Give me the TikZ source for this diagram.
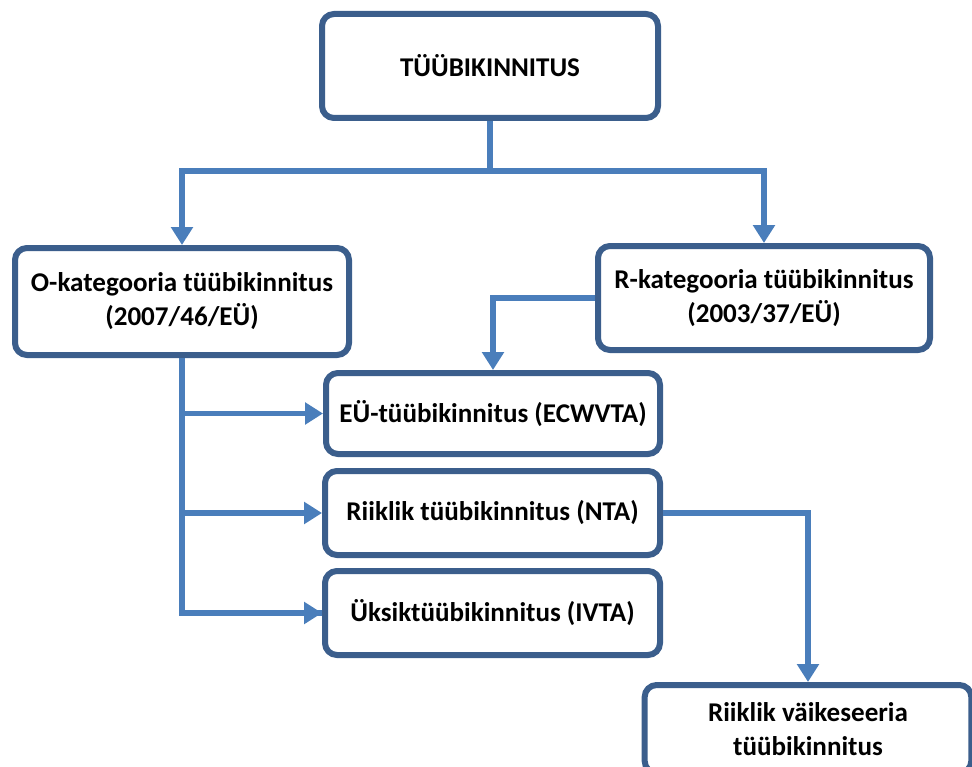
\documentclass[tikz,border=0pt]{standalone}
\usepackage{fontspec}
\setmainfont{Carlito}
\usetikzlibrary{arrows.meta}
\definecolor{boxblue}{HTML}{3B5E8C}
\definecolor{connblue}{HTML}{4A7EBB}
\begin{document}
\begin{tikzpicture}[x=0.75pt,y=-0.75pt,
  box/.style={draw=boxblue, line width=4.5pt, rounded corners=9pt, fill=white,
    align=center, inner sep=0pt, font=\bfseries\fontsize{20.3}{25.5}\selectfont},
  conn/.style={draw=connblue, line width=4.2pt},
  arr/.style={conn, -{Triangle[width=16pt,length=13.5pt]}}]
\useasboundingbox (0,0) rectangle (972,767);
\node[box, minimum width=252pt, minimum height=78pt] (top) at (490,66) {TÜÜBIKINNITUS};
\node[box, minimum width=250.5pt, minimum height=80.25pt] (O) at (182,301.5) {O-kategooria tüübikinnitus\\(2007/46/EÜ)};
\node[box, minimum width=249pt, minimum height=78pt] (R) at (764,298) {R-kategooria tüübikinnitus\\(2003/37/EÜ)};
\node[box, minimum width=250.5pt, minimum height=60.75pt] (EU) at (493,413.5) {EÜ-tüübikinnitus (ECWVTA)};
\node[box, minimum width=251.25pt, minimum height=63pt] (NTA) at (492.5,513) {Riiklik tüübikinnitus (NTA)};
\node[box, minimum width=251.25pt, minimum height=63pt] (UK) at (492.5,613) {Üksiktüübikinnitus (IVTA)};
\node[box, minimum width=245pt, minimum height=66pt] (V) at (808,729) {Riiklik väikeseeria\\tüübikinnitus};
\coordinate (split) at (490,171);
\draw[conn] (top.south) -- (split);
\draw[arr] (split) -| (O.north);
\draw[arr] (split) -| (R.north);
\draw[arr] (R.west) -| (EU.north);
\draw[conn] (O.south) |- (UK.west);
\draw[arr] (O.south) |- (EU.west);
\draw[arr] (O.south) |- (NTA.west);
\draw[arr] (O.south) |- (UK.west);
\draw[arr] (NTA.east) -| (V.north);
\end{tikzpicture}
\end{document}
